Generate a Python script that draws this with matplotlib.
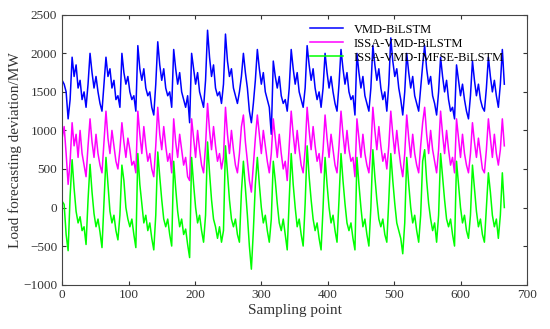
import numpy as np
import matplotlib
matplotlib.use("Agg")
import matplotlib.pyplot as plt

plt.rcParams['font.family'] = ['Liberation Serif', 'DejaVu Serif']

# Load forecasting deviation (MW), one value every 3 sampling points
vmd_bilstm = [
    1650, 1600, 1500, 1150, 1400, 1950, 1700, 1850, 1550, 1650, 1400, 1500, 1300, 1600, 2000, 1750,
    1550, 1700, 1500, 1350, 1250, 1600, 1950, 1700, 1800, 1550, 1650, 1400, 1450, 1300, 2000, 1750,
    1600, 1700, 1500, 1400, 1450, 1250, 2100, 1800, 1650, 1800, 1550, 1450, 1500, 1300, 1200, 1600,
    2150, 1850, 1650, 1800, 1550, 1450, 1500, 1300, 2050, 1800, 1600, 1750, 1500, 1400, 1300, 1450,
    1100, 2000, 1800, 1600, 1750, 1500, 1400, 1300, 1650, 2300, 1950, 1700, 1850, 1550, 1450, 1500,
    1350, 1600, 2250, 1900, 1700, 1800, 1550, 1450, 1350, 1500, 1700, 2000, 1750, 1550, 1250, 1100,
    1350, 1650, 2050, 1800, 1600, 1750, 1500, 1400, 1300, 950, 1900, 1700, 1550, 1700, 1450, 1350,
    1400, 1250, 1550, 2050, 1800, 1600, 1750, 1500, 1400, 1300, 1550, 2100, 1850, 1650, 1800, 1550,
    1400, 1500, 1300, 1550, 2000, 1750, 1550, 1700, 1500, 1350, 1250, 1600, 2050, 1800, 1600, 1750,
    1500, 1400, 1450, 1200, 2000, 1750, 1550, 1700, 1450, 1350, 1250, 1550, 2100, 1850, 1650, 1800,
    1550, 1400, 1500, 1250, 1600, 2200, 1900, 1700, 1800, 1550, 1400, 1200, 1500, 2000, 1750, 1550,
    1700, 1450, 1350, 1250, 1550, 1850, 2100, 1800, 1600, 1700, 1450, 1350, 1200, 1500, 1950, 1700,
    1500, 1650, 1400, 1250, 1300, 1150, 1850, 1650, 1450, 1600, 1400, 1250, 1150, 1450, 1900, 1650,
    1450, 1600, 1400, 1300, 1250, 1550, 1950, 1700, 1500, 1650, 1450, 1300, 1600, 2050, 1600,
]
issa_vmd_bilstm = [
    900, 1050, 700, 300, 600, 1100, 800, 950, 650, 1000, 700, 550, 400, 800, 1150, 850,
    650, 950, 700, 550, 450, 850, 1250, 900, 700, 1000, 800, 600, 500, 750, 1100, 850,
    650, 900, 750, 550, 600, 450, 1250, 950, 700, 1050, 800, 600, 700, 500, 400, 800,
    1300, 950, 750, 1050, 800, 600, 700, 450, 1150, 850, 650, 950, 750, 550, 650, 400,
    350, 1150, 900, 650, 1000, 750, 550, 450, 800, 1350, 1000, 750, 1050, 800, 600, 700,
    500, 650, 1300, 950, 700, 1000, 750, 550, 450, 700, 1050, 1200, 850, 600, 350, 200,
    550, 900, 1200, 950, 700, 1000, 800, 600, 450, 700, 1150, 900, 650, 950, 700, 500,
    600, 350, 800, 1250, 950, 700, 1000, 750, 550, 450, 750, 1300, 1000, 750, 1050, 800,
    600, 700, 450, 750, 1200, 900, 650, 950, 750, 550, 450, 800, 1250, 950, 700, 1000,
    750, 600, 650, 400, 1150, 900, 650, 950, 700, 550, 450, 750, 1300, 1000, 750, 1050,
    800, 600, 700, 500, 800, 1250, 950, 700, 1000, 750, 550, 400, 700, 1200, 900, 650,
    950, 700, 550, 450, 800, 1100, 1300, 950, 700, 1000, 750, 600, 450, 750, 1250, 950,
    700, 1000, 750, 550, 650, 450, 1150, 900, 650, 950, 700, 550, 450, 700, 1100, 850,
    650, 900, 700, 500, 450, 750, 1150, 900, 650, 950, 700, 550, 750, 1150, 800,
]
issa_vmd_imfse_bilstm = [
    80, 40, -350, -560, 150, 620, 250, -50, -200, -120, -300, -250, -480, 100, 560, 200,
    -80, -250, -150, -320, -520, 50, 650, 300, -50, -200, -100, -300, -420, -100, 550, 350,
    0, -150, -250, -150, -350, -520, 700, 300, 50, -200, -100, -300, -200, -400, -550, -100,
    720, 400, 100, -150, -250, -150, -350, -500, 600, 250, -50, -250, -150, -350, -280, -480,
    -650, 650, 300, 0, -200, -100, -300, -450, -100, 850, 450, 100, -150, -250, -400, -250,
    -450, -300, 800, 450, 100, -150, -250, -150, -350, -450, 200, 600, 250, -100, -500, -800,
    -300, 300, 650, 300, 0, -200, -100, -300, -450, -150, 600, 350, 50, -200, -300, -150,
    -350, -550, 100, 700, 300, 0, -250, -150, -350, -500, 50, 800, 400, 100, -150, -300,
    -200, -400, -550, 0, 650, 300, 0, -200, -100, -300, -450, 100, 700, 350, 50, -200,
    -300, -200, -400, -550, 650, 300, 0, -250, -150, -350, -500, 0, 750, 400, 100, -150,
    -250, -150, -350, -450, 100, 700, 350, 50, -200, -300, -400, -600, -200, 650, 300, 0,
    -200, -100, -300, -450, -100, 600, 750, 350, 50, -150, -300, -200, -450, -100, 700, 400,
    100, -150, -250, -150, -350, -500, 600, 300, 0, -200, -100, -300, -400, -100, 550, 250,
    -50, -250, -150, -350, -450, 0, 450, 200, -100, -250, -150, -400, -100, 450, 0,
]
labels = ['VMD-BiLSTM', 'ISSA-VMD-BiLSTM', 'ISSA-VMD-IMFSE-BiLSTM']
colors = ['#0000ff', '#ff00ff', '#00ff00']

x = np.arange(len(vmd_bilstm)) * 3

fig = plt.figure(figsize=(5.5, 3.29), dpi=100)
ax = fig.add_axes([0.113, 0.135, 0.845, 0.82])

for y, lab, c in zip([vmd_bilstm, issa_vmd_bilstm, issa_vmd_imfse_bilstm], labels, colors):
    ax.plot(x, y, color=c, lw=1.1, label=lab)

ax.set_xlim(0, 700)
ax.set_ylim(-1000, 2500)
ax.set_xticks(range(0, 701, 100))
ax.set_yticks(range(-1000, 2501, 500))
ax.tick_params(direction='in', top=True, right=True, labelsize=9.5, length=3,
               color='#333333', labelcolor='#333333')
for s in ax.spines.values():
    s.set_color('#444444')
    s.set_linewidth(0.8)

ax.set_xlabel('Sampling point', fontsize=11, color='#333333', labelpad=2)
ax.set_ylabel('Load forecasting deviation/MW', fontsize=11, color='#333333', labelpad=1)

ax.legend(loc='upper left', bbox_to_anchor=(0.52, 0.99), frameon=False, fontsize=9,
          handlelength=2.6, handletextpad=0.9, labelspacing=0.15, borderpad=0)

fig.savefig('out.png', dpi=100)
